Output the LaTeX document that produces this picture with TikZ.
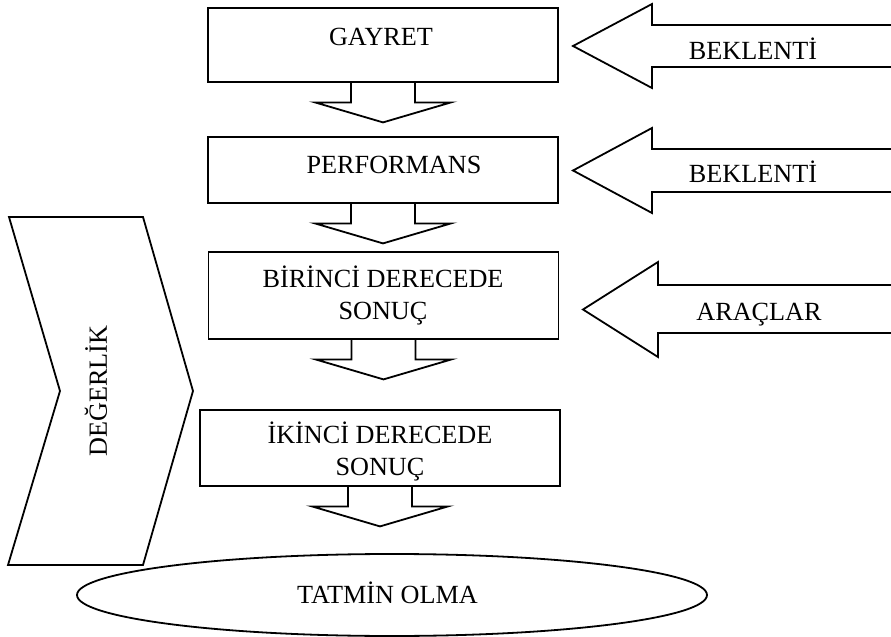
\documentclass[tikz,border=0pt]{standalone}
\usepackage{fontspec}
\setmainfont{Liberation Serif}
\usetikzlibrary{shapes.geometric}
\begin{document}
\begin{tikzpicture}[x=0.5pt, y=-0.5pt, line width=0.9pt,
        box/.style={rectangle, draw, minimum width=175pt, inner sep=0pt},
        lbl/.style={font=\fontsize{13.1}{16}\selectfont, align=center, inner sep=0pt},
        dn/.pic={\draw (-32,0) -- (-32,19.5) -- (-68,19.5) -- (0,39.5) -- (68,19.5) -- (32,19.5) -- (32,0);}
    ]
    \useasboundingbox (0,0) rectangle (891,637);
    % boxes down the middle
    \node[box, minimum height=37pt]   (gay)  at (383,45)    {};
    \node[box, minimum height=33pt]   (perf) at (383,170)   {};
    \node[box, minimum height=43.5pt] (bir)  at (383.5,295.5) {};
    \node[box, minimum height=38pt, minimum width=180pt] (iki) at (380,448) {};
    \node[lbl, anchor=base] (gayt)  at (381,45.5) {GAYRET};
    \node[lbl, anchor=base] (perft) at (394,173)  {PERFORMANS};
    \node[lbl] (birt) at (383,295) {BİRİNCİ DERECEDE\\SONUÇ};
    \node[lbl] (ikit) at (380,451) {İKİNCİ DERECEDE\\SONUÇ};
    % arrows between boxes
    \pic at (gay.south)  {dn};
    \pic at (perf.south) {dn};
    \pic at (bir.south)  {dn};
    \pic at (iki.south)  {dn};
    % arrows from the right
    \draw (891,25) -- (652,25) -- (652,4) -- (573,46) -- (652,88) -- (652,67) -- (891,67);
    \draw (891,149) -- (652,149) -- (652,128) -- (573,170.5) -- (652,213) -- (652,192) -- (891,192);
    \draw (891,285) -- (658,285) -- (658,262) -- (583,309.5) -- (658,357) -- (658,333) -- (891,333);
    \node[lbl, anchor=base] (bek1) at (753,60)  {BEKLENTİ};
    \node[lbl, anchor=base] (bek2) at (753,183) {BEKLENTİ};
    \node[lbl, anchor=base] (arac) at (759,320) {ARAÇLAR};
    % chevron on the left
    \draw (9,217) -- (143,217) -- (193,391) -- (143,565) -- (8,565) -- (60,391) -- cycle;
    \node[lbl, rotate=90] (deg) at (96,391) {DEĞERLİK};
    % result
    \node[lbl, draw, ellipse, minimum width=315pt, minimum height=41pt] (tat) at (392,595) {};
    \node[lbl, anchor=base] (tatt) at (387.5,603) {TATMİN OLMA};
\end{tikzpicture}
\end{document}
